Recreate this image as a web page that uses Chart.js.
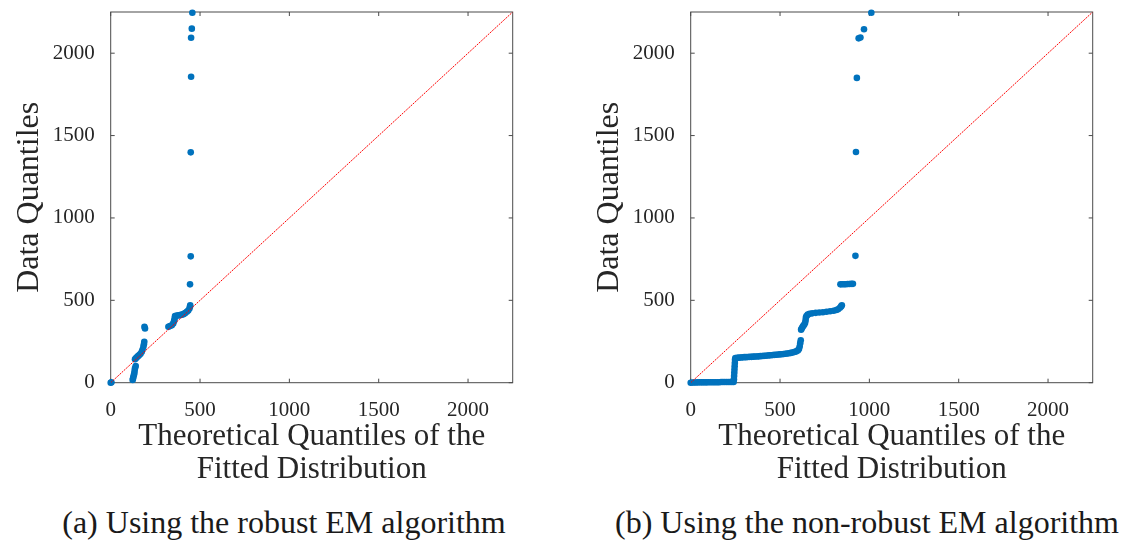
<!DOCTYPE html>
<html>
<head>
<meta charset="utf-8">
<script src="https://cdn.jsdelivr.net/npm/chart.js@4.4.0/dist/chart.umd.min.js"></script>
<style>
html,body{margin:0;padding:0;background:#fff;width:1123px;height:542px;overflow:hidden;}
.box{position:absolute;}
.cap{position:absolute;font-family:"Liberation Serif",serif;font-size:32px;line-height:32px;color:#1a1a1a;white-space:nowrap;transform:translateX(-50%);}
</style>
</head>
<body>
<div class="box" style="left:0;top:0;width:545px;height:500px"><canvas id="c1"></canvas></div>
<div class="box" style="left:580px;top:0;width:543px;height:500px"><canvas id="c2"></canvas></div>
<div class="cap" style="left:284px;top:506px">(a) Using the robust EM algorithm</div>
<div class="cap" style="left:867px;top:506px">(b) Using the non-robust EM algorithm</div>
<script>
// ---- data ----
const axisMax = 2250;
const tickValues = [0, 500, 1000, 1500, 2000];
const xTitle = ['Theoretical Quantiles of the', 'Fitted Distribution'];
const yTitle = 'Data Quantiles';

const refLineX = [0, 2250];
const refLineY = [0, 2250];

// (a) robust EM
const robustX = [0,4, 123,125,127,130,132,134,136,140,
  136,141,146,153,160,167,174,178,183,186,188,189,192,
  323,332,342,350,355,358,360,370,380,388,398,407,416,426,434,441,444,445,
  444,448,448,450,450,454,457];
const robustY = [0,3, 16,25,36,47,57,72,87,101,
  142,148,154,161,168,176,188,200,218,233,248,340,329,
  339,344,349,360,375,390,404,407,409,410,413,416,422,430,438,450,462,470,
  597,767,1398,1857,2094,2149,2245];

// (b) non-robust EM
const nonRobustX = [0,10,20,30,40,50,60,70,80,90,100,110,120,130,140,150,160,170,180,190,200,210,220,230,240,
  242,243,244,245,246,247,248,
  250,260,270,280,290,300,310,320,330,340,350,360,370,380,390,400,410,420,430,440,450,460,470,480,490,500,510,520,530,540,550,560,570,580,590,600,
  606,610,613,616,
  618,622,626,630,635,640,643,645,648,655,665,680,700,720,740,760,780,800,815,825,835,842,846,
  838,848,858,868,878,888,898,908,
  922,925,930,940,950,970,1011];
const nonRobustY = [0,1,1,1,2,2,2,2,2,2,3,3,3,3,3,3,3,4,4,4,4,4,4,5,5,
  20,40,60,80,100,120,140,
  150,151,152,153,154,155,155,156,157,157,158,159,159,160,161,162,163,164,165,166,167,168,169,170,171,172,173,174,176,177,179,181,183,186,190,196,
  205,220,240,258,
  322,330,338,345,352,362,378,395,405,413,418,421,424,426,428,431,434,437,441,446,455,463,470,
  597,598,598,598,599,599,600,600,
  770,1400,1850,2090,2095,2145,2245];

// ---- drawing ----
const FONT = 'Liberation Serif';
const TXT = '#262626';

const framePlugin = {
  id: 'frame',
  beforeDatasetsDraw(chart) {
    const {ctx, chartArea: a, scales: {x, y}} = chart;
    ctx.save();
    ctx.strokeStyle = '#4a4a4a';
    ctx.lineWidth = 1;
    ctx.strokeRect(a.left, a.top, a.right - a.left, a.bottom - a.top);
    ctx.beginPath();
    x.ticks.forEach(t => {
      const p = x.getPixelForValue(t.value);
      ctx.moveTo(p, a.bottom); ctx.lineTo(p, a.bottom - 4);
      ctx.moveTo(p, a.top); ctx.lineTo(p, a.top + 4);
    });
    y.ticks.forEach(t => {
      const p = y.getPixelForValue(t.value);
      ctx.moveTo(a.left, p); ctx.lineTo(a.left + 4, p);
      ctx.moveTo(a.right, p); ctx.lineTo(a.right - 4, p);
    });
    ctx.stroke();
    ctx.restore();
  }
};

function setTicks(s) { s.ticks = tickValues.map(v => ({value: v})); }

function makeChart(id, xs, ys, rightPad) {
  const pts = xs.map((v, i) => ({x: v, y: ys[i]}));
  const ref = refLineX.map((v, i) => ({x: v, y: refLineY[i]}));
  return new Chart(document.getElementById(id), {
    type: 'scatter',
    data: {
      datasets: [
        {type: 'line', data: ref, borderColor: '#ff0000', borderWidth: 1, borderDash: [2, 1],
         pointRadius: 0, fill: false, order: 0},
        {data: pts, backgroundColor: '#0072BD', borderWidth: 0, pointRadius: 3.3,
         pointHoverRadius: 3.3, order: 1, clip: false}
      ]
    },
    options: {
      animation: false, responsive: true, maintainAspectRatio: false, devicePixelRatio: 1,
      layout: {padding: {top: 12, right: rightPad, left: 0, bottom: 0}},
      plugins: {legend: {display: false}, tooltip: {enabled: false}},
      events: [],
      scales: {
        x: {
          type: 'linear', min: 0, max: axisMax,
          grid: {display: false}, border: {display: false},
          afterBuildTicks: setTicks,
          ticks: {padding: 7, maxRotation: 0, autoSkip: false,
                  callback: v => String(v),
                  font: {family: FONT, size: 21}, color: TXT},
          title: {display: true, text: xTitle, color: TXT,
                  font: {family: FONT, size: 31, lineHeight: 1.074},
                  padding: {top: 0, bottom: 13.3}},
          afterFit(s) { s.height = 117.3; s.paddingLeft = 0; s.paddingRight = 0; }
        },
        y: {
          type: 'linear', min: 0, max: axisMax,
          grid: {display: false}, border: {display: false},
          afterBuildTicks: setTicks,
          ticks: {padding: 8, autoSkip: false,
                  callback: v => String(v),
                  font: {family: FONT, size: 21}, color: TXT},
          title: {display: true, text: yTitle, color: TXT,
                  font: {family: FONT, size: 32, lineHeight: 1.2},
                  padding: {top: 10, bottom: 0}},
          afterFit(s) { s.width = 110.7; s.paddingTop = 0; s.paddingBottom = 0; }
        }
      }
    },
    plugins: [framePlugin]
  });
}

makeChart('c1', robustX, robustY, 32.3);
makeChart('c2', nonRobustX, nonRobustY, 30.3);
</script>
</body>
</html>
